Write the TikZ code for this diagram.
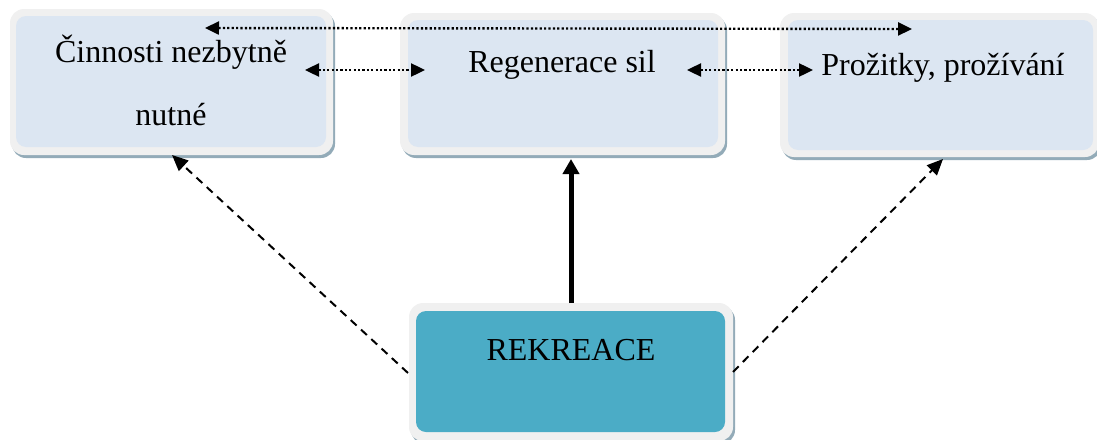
\documentclass[tikz,border=0pt]{standalone}
\usepackage{fontspec}
\setmainfont{Liberation Serif}
\usetikzlibrary{arrows.meta}
\definecolor{paleblue}{HTML}{DCE6F2}
\definecolor{rimgray}{HTML}{F0F0F0}
\definecolor{shadowblue}{HTML}{93ABB8}
\definecolor{teal}{HTML}{4BACC6}
\tikzset{
  shade box/.style={fill=shadowblue, rounded corners=14pt, inner sep=0pt, draw=none},
  rim box/.style={fill=rimgray, rounded corners=14pt, inner sep=0pt, draw=none},
  core box/.style={rounded corners=10pt, inner sep=0pt, draw=none},
  label/.style={anchor=base, inner sep=0pt, font=\fontsize{32}{38}\selectfont},
  dotlink/.style={line width=2.4pt, dash pattern=on 2.2pt off 2.2pt,
    {Triangle[length=14pt,width=13pt]}-{Triangle[length=14pt,width=13pt]}},
  dashlink/.style={line width=2pt, dash pattern=on 8pt off 6pt,
    -{Triangle[length=16pt,width=14pt]}},
  boldlink/.style={line width=5pt, -{Triangle[length=15pt,width=16pt]}}
}
\begin{document}
\begin{tikzpicture}[x=1pt,y=-1pt]
\useasboundingbox (0,0) rectangle (1097,439);

% box 1
\node[shade box, minimum width=323pt, minimum height=146pt] (s1) at (173.5,85) {};
\node[rim box, minimum width=323pt, minimum height=146pt] (r1) at (171.5,82) {};
\node[core box, fill=paleblue, minimum width=310pt, minimum height=131pt] (b1) at (171,81.5) {};
% box 2
\node[shade box, minimum width=325pt, minimum height=142pt] (s2) at (564.5,87) {};
\node[rim box, minimum width=325pt, minimum height=142pt] (r2) at (562.5,84) {};
\node[core box, fill=paleblue, minimum width=310pt, minimum height=127pt] (b2) at (563,83.5) {};
% box 3
\node[shade box, minimum width=319pt, minimum height=144pt] (s3) at (941.5,88) {};
\node[rim box, minimum width=319pt, minimum height=144pt] (r3) at (939.5,85) {};
\node[core box, fill=paleblue, minimum width=305pt, minimum height=130pt] (b3) at (940.5,85) {};
% box 4
\node[shade box, minimum width=324pt, minimum height=138pt] (s4) at (573,375) {};
\node[rim box, minimum width=324pt, minimum height=138pt] (r4) at (571,372) {};
\node[core box, fill=teal, minimum width=309pt, minimum height=121pt] (b4) at (570.5,371.5) {};

% texts
\node[label] (t1a) at (171,62) {Činnosti nezbytně};
\node[label] (t1b) at (171,125) {nutné};
\node[label] (t2) at (562,72) {Regenerace sil};
\node[label] (t3) at (943,75) {Prožitky, prožívání};
\node[label] (t4) at (571,360) {REKREACE};

% connector ends
\coordinate (topL) at (205,28);
\coordinate (topR) at (912,29);
\coordinate (m1R) at (305,70);
\coordinate (m2L) at (425,70);
\coordinate (m2R) at (687,70);
\coordinate (m3L) at (813,70);
\coordinate (up1) at (172,155);
\coordinate (up2) at (571,159);
\coordinate (up3) at (943,159);
\coordinate (fromL) at (408,373);
\coordinate (fromT) at (571,303);
\coordinate (fromR) at (733,372);

% connectors
\draw[dotlink] (topL) -- (topR);
\draw[dotlink] (m1R) -- (m2L);
\draw[dotlink] (m2R) -- (m3L);
\draw[boldlink] (fromT) -- (up2);
\draw[dashlink] (fromL) -- (up1);
\draw[dashlink] (fromR) -- (up3);
\end{tikzpicture}
\end{document}
